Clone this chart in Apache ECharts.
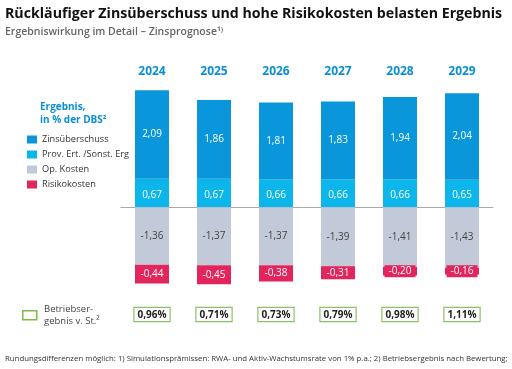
<!DOCTYPE html>
<html><head><meta charset="utf-8">
<script src="https://cdn.jsdelivr.net/npm/echarts@6/dist/echarts.min.js"></script>
<style>html,body{margin:0;padding:0;background:#fff}#c{width:512px;height:369px}</style>
</head><body><div id="c"></div>
<script>
const years = ['2024','2025','2026','2027','2028','2029'];
const zins = [2.09, 1.86, 1.81, 1.83, 1.94, 2.04];
const prov = [0.67, 0.67, 0.66, 0.66, 0.66, 0.65];
const opKosten = [-1.36, -1.37, -1.37, -1.39, -1.41, -1.43];
const risiko = [-0.44, -0.45, -0.38, -0.31, -0.20, -0.16];
const betriebsergebnis = ['0,96%', '0,71%', '0,73%', '0,79%', '0,98%', '1,11%'];

const FONT = '"Open Sans", "Noto Sans", sans-serif';
const fmt = v => v.toFixed(2).replace('.', ',');
const chart = echarts.init(document.getElementById('c'), null, {renderer: 'canvas'});

function lbl(color, extra) {
  return Object.assign({
    show: true, position: 'inside', color: color, fontSize: 10, fontFamily: FONT,
    formatter: p => fmt(p.value)
  }, extra || {});
}

chart.setOption({
  animation: false,
  textStyle: {fontFamily: FONT},
  title: [
    {text: 'Rückläufiger Zinsüberschuss und hohe Risikokosten belasten Ergebnis', left: 0, top: 2,
     textStyle: {fontSize: 14.2, fontWeight: 'bold', color: '#111', fontFamily: FONT}},
    {text: 'Ergebniswirkung im Detail – Zinsprognose¹⁾', left: 0, top: 22,
     textStyle: {fontSize: 10.5, fontWeight: 600, color: '#666', fontFamily: FONT}}
  ],
  legend: {
    orient: 'vertical', left: 22, top: 129, itemWidth: 10, itemHeight: 8, itemGap: 4,
    icon: 'rect', textStyle: {fontSize: 9.2, color: '#333', fontFamily: FONT, lineHeight: 11},
    data: ['Zinsüberschuss', 'Prov. Ert. /Sonst. Erg', 'Op. Kosten', 'Risikokosten']
  },
  graphic: [
    {type: 'text', left: 40, top: 101, style: {text: 'Ergebnis,\nin % der DBS²', fill: '#0a8fd6',
      font: 'bold 10px ' + FONT, lineHeight: 13}},
    {type: 'rect', left: 22, top: 310, shape: {width: 14, height: 9},
      style: {fill: '#fff', stroke: '#7dbb4a', lineWidth: 1.5}},
    {type: 'text', left: 44, top: 303, style: {text: 'Betriebser-\ngebnis v. St.²', fill: '#444',
      font: '9.5px ' + FONT, lineHeight: 12}},
    {type: 'text', left: 5, top: 355, style: {text: 'Rundungsdifferenzen möglich: 1) Simulationsprämissen: RWA- und Aktiv-Wachstumsrate von 1% p.a.; 2) Betriebsergebnis nach Bewertung;',
      fill: '#333', font: '7.8px ' + FONT}}
  ],
  grid: {left: 121, right: 19, top: 80, bottom: 77},
  xAxis: [
    {type: 'category', data: years, position: 'top', axisLine: {show: false, onZero: false},
     axisTick: {show: false}, axisLabel: {color: '#0a8fd6', fontWeight: 'bold', fontSize: 12, margin: 2, fontFamily: FONT}},
    {type: 'category', data: years, position: 'bottom', axisLine: {show: true, onZero: true, lineStyle: {color: '#aaa', width: 1}},
     axisTick: {show: false}, axisLabel: {show: false}},
    {type: 'category', data: betriebsergebnis, position: 'bottom', offset: 0,
     axisLine: {show: false, onZero: false}, axisTick: {show: false},
     axisLabel: {color: '#222', fontWeight: 'bold', fontSize: 10, margin: 16, fontFamily: FONT,
       borderColor: '#8cc068', borderWidth: 1.2, padding: [2, 3, 1, 3], backgroundColor: '#fff'}}
  ],
  yAxis: {type: 'value', min: -2, max: 3, show: false, splitLine: {show: false}},
  series: [
    {name: 'Prov. Ert. /Sonst. Erg', type: 'bar', stack: 'a', data: prov, barWidth: 34,
     itemStyle: {color: '#0cb6ea'}, label: lbl('#fff', {offset: [0, 2]})},
    {name: 'Zinsüberschuss', type: 'bar', stack: 'a', data: zins, barWidth: 34,
     itemStyle: {color: '#0a96da'}, label: lbl('#fff')},
    {name: 'Op. Kosten', type: 'bar', stack: 'a', data: opKosten, barWidth: 34,
     itemStyle: {color: '#c2c9d8'}, label: lbl('#444')},
    {name: 'Risikokosten', type: 'bar', stack: 'a', data: risiko, barWidth: 34,
     itemStyle: {color: '#e3255d'}, label: lbl('#fff', {backgroundColor: '#e3255d', padding: [1, 4]})}
  ]
});
</script></body></html>
